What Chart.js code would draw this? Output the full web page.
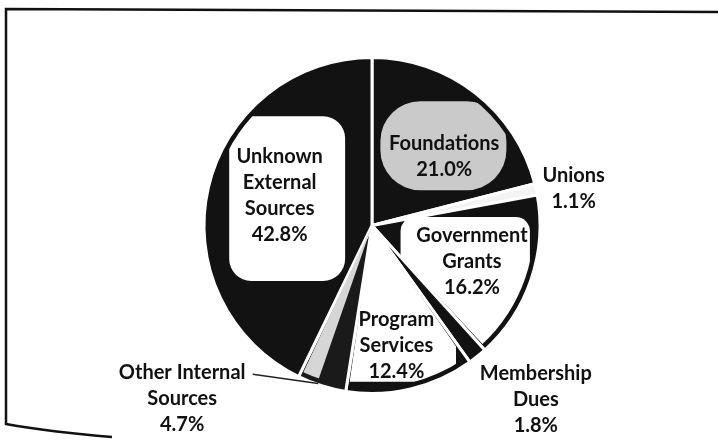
<!DOCTYPE html>
<html>
<head>
<meta charset="utf-8">
<script src="https://cdn.jsdelivr.net/npm/chart.js@4.4.1/dist/chart.umd.min.js"></script>
<style>
  html, body { margin: 0; padding: 0; background: #fff; }
  #wrap { width: 718px; height: 442px; position: relative; }
</style>
</head>
<body>
<div id="wrap"><canvas id="myChart" width="718" height="442"></canvas></div>
<script>
// datos del grafico (orden horario desde arriba)
var categorias = [
    ['Foundations'],
    ['Unions'],
    ['Government', 'Grants'],
    ['Membership', 'Dues'],
    ['Program', 'Services'],
    ['Other Internal', 'Sources'],
    ['Unknown', 'External', 'Sources']
];
var porcentajes = [21.0, 1.1, 16.2, 1.8, 12.4, 4.7, 42.8];

// colores de las rebanadas (escaneo en blanco y negro)
var colores = ['#121212', '#f4f4f4', '#121212', '#121212', '#121212', '#1a1a1a', '#121212'];

// posicion de etiquetas relativa al centro, en unidades del radio
var posEtiquetas = [
    [0.43, -0.41], [1.20, -0.22], [0.595, 0.215], [0.975, 1.035],
    [0.145, 0.715], [-1.13, 1.03], [-0.55, -0.18]
];
// manchas claras detras de las etiquetas internas [x0, y0, x1, y1, color, radio]
var manchas = [
    [0.05, -0.74, 0.80, -0.21, '#cacaca', 40],
    null,
    [0.17, -0.05, 0.94, 0.78, '#ffffff', 14],
    null,
    [-0.25, -0.05, 0.50, 0.93, '#ffffff', 14],
    null,
    [-0.85, -0.65, -0.16, 0.33, '#ffffff', 22]
];

var etiquetasPlugin = {
    id: 'etiquetas',
    afterDatasetsDraw: function (chart) {
        var ctx = chart.ctx;
        var meta = chart.getDatasetMeta(0);
        var a0 = meta.data[0];
        var cx = a0.x, cy = a0.y, R = a0.outerRadius;

        // manchas recortadas a cada rebanada
        meta.data.forEach(function (arc, i) {
            var m = manchas[i];
            ctx.save();
            ctx.beginPath();
            ctx.moveTo(arc.x, arc.y);
            ctx.arc(arc.x, arc.y, arc.outerRadius - 6, arc.startAngle + 0.015, arc.endAngle - 0.015);
            ctx.closePath();
            ctx.clip();
            if (i === 5) {
                // franja clara de Other Internal (lado de Unknown)
                var mid = (arc.startAngle + arc.endAngle) / 2 + 0.03;
                ctx.fillStyle = '#d6d6d6';
                ctx.beginPath();
                ctx.moveTo(arc.x, arc.y);
                ctx.arc(arc.x, arc.y, arc.outerRadius, mid, arc.endAngle);
                ctx.closePath();
                ctx.fill();
            } else if (m) {
                ctx.fillStyle = m[4];
                ctx.beginPath();
                ctx.roundRect(cx + m[0] * R, cy + m[1] * R, (m[2] - m[0]) * R, (m[3] - m[1]) * R, m[5]);
                ctx.fill();
            }
            ctx.restore();
        });

        // linea guia de Other Internal
        ctx.save();
        ctx.strokeStyle = '#222';
        ctx.lineWidth = 1.5;
        ctx.beginPath();
        ctx.moveTo(cx - 0.71 * R, cy + 0.885 * R);
        ctx.lineTo(cx - 0.32 * R, cy + 0.94 * R);
        ctx.stroke();
        ctx.restore();

        // textos
        ctx.save();
        ctx.fillStyle = '#111';
        ctx.font = 'bold 20px Lato, "Liberation Sans", sans-serif';
        ctx.textAlign = 'center';
        ctx.textBaseline = 'middle';
        var lh = 26;
        meta.data.forEach(function (arc, i) {
            var lineas = categorias[i].concat([porcentajes[i].toFixed(1) + '%']);
            var x = cx + posEtiquetas[i][0] * R;
            var y = cy + posEtiquetas[i][1] * R - (lineas.length - 1) * lh / 2;
            lineas.forEach(function (t, k) {
                ctx.fillText(t, x, y + k * lh);
            });
        });
        ctx.restore();
    }
};

// marco escaneado alrededor del grafico
var marcoPlugin = {
    id: 'marco',
    beforeDraw: function (chart) {
        var ctx = chart.ctx;
        ctx.save();
        ctx.strokeStyle = '#111';
        ctx.lineWidth = 2.5;
        ctx.beginPath();
        ctx.moveTo(718, 12);
        ctx.lineTo(6, 9);
        ctx.lineTo(6, 424);
        ctx.quadraticCurveTo(50, 432, 112, 437);
        ctx.stroke();
        ctx.restore();
    }
};

var graphTarget = document.getElementById('myChart');
var pieChart = new Chart(graphTarget, {
    type: 'pie',
    data: {
        labels: categorias,
        datasets: [{
            data: porcentajes,
            backgroundColor: colores,
            borderColor: '#ffffff',
            borderWidth: 3
        }]
    },
    options: {
        responsive: false,
        animation: false,
        layout: { padding: { top: 56, bottom: 47, left: 200, right: 174 } },
        plugins: {
            legend: { display: false },
            tooltip: { enabled: false }
        }
    },
    plugins: [marcoPlugin, etiquetasPlugin]
});
</script>
</body>
</html>
